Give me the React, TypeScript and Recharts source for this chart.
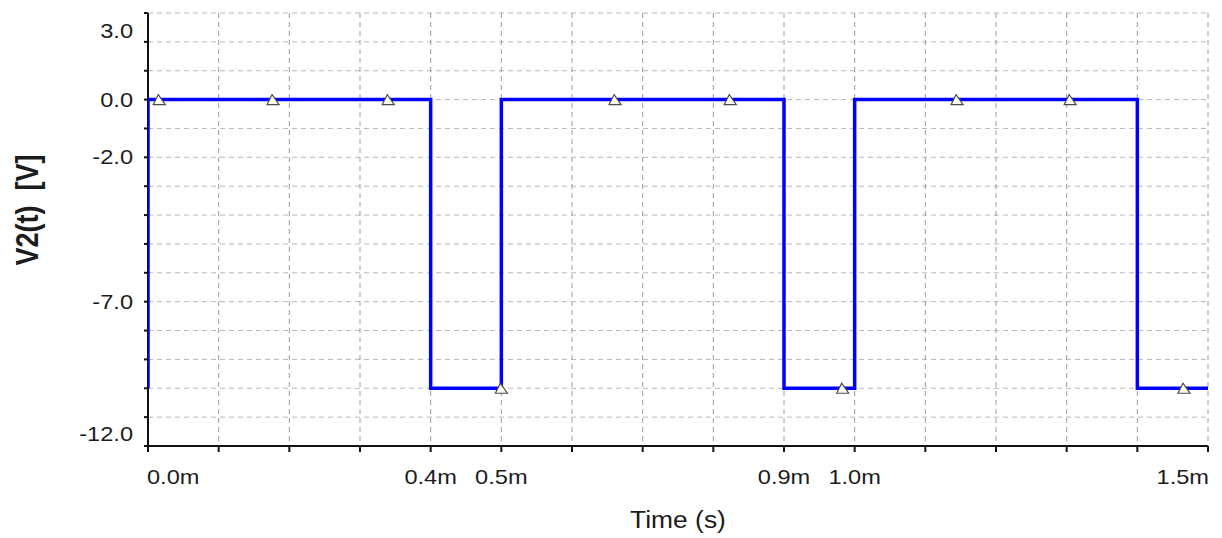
import { ComposedChart, Line, Scatter, XAxis, YAxis, CartesianGrid, ReferenceLine } from 'recharts';

// square wave V2(t), time in ms
const waveTimes = [0, 0, 0.4, 0.4, 0.5, 0.5, 0.9, 0.9, 1.0, 1.0, 1.4, 1.4, 1.5];
const waveVolts = [-10, 0, 0, -10, -10, 0, 0, -10, -10, 0, 0, -10, -10];

// triangle markers sitting on the trace
const markerTimes = [0.016, 0.177, 0.34, 0.5, 0.661, 0.824, 0.983, 1.145, 1.305, 1.466];
const markerVolts = [0, 0, 0, -10, 0, 0, -10, 0, 0, -10];

const xTicks = [0, 0.1, 0.2, 0.3, 0.4, 0.5, 0.6, 0.7, 0.8, 0.9, 1.0, 1.1, 1.2, 1.3, 1.4, 1.5];
const xTickLabels = ['0.0m', '', '', '', '0.4m', '0.5m', '', '', '', '0.9m', '1.0m', '', '', '', '', '1.5m'];

const yTicks = [3, 2, 1, 0, -1, -2, -3, -4, -5, -6, -7, -8, -9, -10, -11, -12];
const yTickLabels = ['3.0', '', '', '0.0', '', '-2.0', '', '', '', '', '-7.0', '', '', '', '', '-12.0'];

const topTicks = [0.753];

const waveData = waveTimes.map((t, i) => ({ t, v: waveVolts[i] }));
const markerData = markerTimes.map((t, i) => ({ t, v: markerVolts[i] }));

const font = '"Liberation Sans", Arial, sans-serif';
const stretch = 1.18;

const XTick = (props) => {
  const { x, y, index } = props;
  const label = xTickLabels[index];
  if (!label) return null;
  let anchor = 'middle';
  let dx = 0;
  if (index === 0) { anchor = 'start'; dx = -1; }
  if (index === xTicks.length - 1) { anchor = 'end'; dx = 1; }
  return (
    <g transform={`translate(${x + dx},${y + 30}) scale(${stretch},1)`}>
      <text textAnchor={anchor} fontFamily={font} fontSize={20} fill="#1c1c1c">{label}</text>
    </g>
  );
};

const YTick = (props) => {
  const { x, y, index } = props;
  const label = yTickLabels[index];
  if (!label) return null;
  let dy = 7;
  if (index === 0) dy = 25;
  if (index === yTicks.length - 1) dy = -5;
  return (
    <g transform={`translate(${x - 9},${y + dy}) scale(${stretch},1)`}>
      <text textAnchor="end" fontFamily={font} fontSize={20} fill="#1c1c1c">{label}</text>
    </g>
  );
};

const Triangle = (props) => {
  const { cx, cy } = props;
  return (
    <path
      d={`M${cx - 6},${cy + 5} L${cx - 1},${cy - 5} L${cx + 6},${cy + 5} Z`}
      fill="#ffffff"
      stroke="#4a4a4a"
      strokeWidth={1.2}
    />
  );
};

const YLabel = () => (
  <g transform={`translate(38,210) scale(${stretch},1) rotate(-90)`}>
    <text textAnchor="middle" fontFamily={font} fontSize={27} fontWeight="bold" fill="#1c1c1c" style={{ whiteSpace: 'pre' }}>
      {'V2(t)  [V]'}
    </text>
  </g>
);

const XLabel = () => (
  <g transform={`translate(678,528) scale(1.1,1)`}>
    <text textAnchor="middle" fontFamily={font} fontSize={24} fill="#1c1c1c">Time (s)</text>
  </g>
);

const App = () => {
  return (
    <div style={{ position: 'absolute', left: 0, top: 0 }}>
      <ComposedChart width={1222} height={538} margin={{ top: 13, right: 14, bottom: 62, left: 88 }}>
        <CartesianGrid vertical={false} stroke="#b8b8b8" strokeDasharray="5 4" />
        <CartesianGrid horizontal={false} stroke="#9c9c9c" strokeDasharray="5 4" />
        <XAxis
          dataKey="t"
          type="number"
          domain={[0, 1.5]}
          ticks={xTicks}
          interval={0}
          height={30}
          tickSize={6}
          tickMargin={2}
          stroke="#111"
          strokeWidth={2}
          tick={XTick}
          label={XLabel}
          allowDataOverflow
        />
        <XAxis
          xAxisId="top"
          orientation="top"
          type="number"
          domain={[0, 1.5]}
          ticks={topTicks}
          height={0}
          tickSize={5}
          tick={false}
          stroke="#111"
          strokeWidth={2}
        />
        <YAxis
          type="number"
          domain={[-12, 3]}
          ticks={yTicks}
          interval={0}
          width={60}
          tickSize={4}
          tickMargin={2}
          stroke="#111"
          strokeWidth={2}
          axisLine={false}
          tick={YTick}
          label={YLabel}
          allowDataOverflow
        />
        <ReferenceLine x={0} stroke="#111" strokeWidth={2} />
        <Line
          data={waveData}
          dataKey="v"
          type="linear"
          stroke="#0000ff"
          strokeWidth={3.5}
          dot={false}
          activeDot={false}
          isAnimationActive={false}
        />
        <Scatter data={markerData} dataKey="v" shape={Triangle} isAnimationActive={false} />
      </ComposedChart>
    </div>
  );
};

export default App;
